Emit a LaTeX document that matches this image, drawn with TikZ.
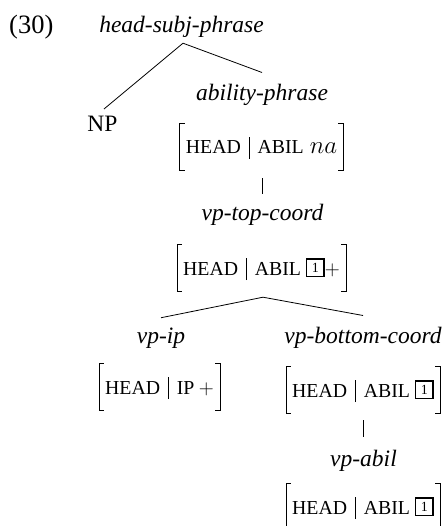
\documentclass[tikz,border=0pt]{standalone}
\usepackage{fontspec}
\setmainfont{Liberation Serif}
\newcommand{\fsz}[1]{\fontsize{#1}{#1}\selectfont}
\newcommand{\smc}[1]{{\fsz{19.8}#1}}
\newcommand{\pbar}{\hspace{8pt}\rule[-5pt]{0.7pt}{22pt}\hspace{8pt}}
\newcommand{\tagb}[1]{{\setlength{\fboxrule}{1.4pt}\setlength{\fboxsep}{0pt}\raisebox{-0.6pt}{\fbox{\makebox[16pt]{\rule{0pt}{16pt}\raisebox{3.3pt}{\fsz{14}#1}}}}}}
\newcommand{\avmstrut}{\rule[-16pt]{0pt}{46pt}}
\newcommand{\avmbrackets}[1]{%
  \draw[brk] ([xshift=5pt]#1.north west) -- (#1.north west) -- (#1.south west) -- ([xshift=5pt]#1.south west);
  \draw[brk] ([xshift=-5pt]#1.north east) -- (#1.north east) -- (#1.south east) -- ([xshift=-5pt]#1.south east);}
\tikzset{
  lbl/.style={font=\fsz{23.5}\itshape, inner sep=0pt, anchor=base},
  avm/.style={inner xsep=6pt, inner ysep=0pt, anchor=base},
  brk/.style={line width=0.8pt},
  edge/.style={line width=0.8pt},
}
\begin{document}
\begin{tikzpicture}[x=1pt,y=-1pt]
\useasboundingbox (0,0) rectangle (446,526);
% example number
\node[inner sep=0pt, anchor=base west, font=\fsz{26.5}] (num) at (9,34) {(30)};
% labels
\node[lbl] (hsp) at (181.5,33) {head-subj-phrase};
\node[lbl, font=\fsz{23.5}\upshape] (np) at (102.5,132) {NP};
\node[lbl] (ap) at (262,101) {ability-phrase};
\node[avm] (a1) at (261.5,154) {\avmstrut\smc{HEAD}\pbar\smc{ABIL}\hspace{6pt}{\fsz{24}$na$}};
\node[lbl] (vtc) at (262.5,221) {vp-top-coord};
\node[avm] (a2) at (261.5,275) {\avmstrut\smc{HEAD}\pbar\smc{ABIL}\hspace{5pt}\tagb{1}{\fsz{22}$+$}};
\node[lbl] (vpip) at (161,343) {vp-ip};
\node[lbl] (vpbc) at (363,343) {vp-bottom-coord};
\node[avm] (a3) at (159.5,394) {\avmstrut\smc{HEAD}\pbar\smc{IP}\hspace{4.5pt}{\fsz{22}$+$}};
\node[avm] (a4) at (363,397) {\avmstrut\smc{HEAD}\pbar\smc{ABIL}\hspace{5pt}\tagb{1}};
\node[lbl] (vpa) at (363.5,466) {vp-abil};
\node[avm] (a5) at (363,514) {\avmstrut\smc{HEAD}\pbar\smc{ABIL}\hspace{5pt}\tagb{1}};
% brackets
\avmbrackets{a1}
\avmbrackets{a2}
\avmbrackets{a3}
\avmbrackets{a4}
\avmbrackets{a5}
% edges
\draw[edge] ([xshift=1.5pt,yshift=-5pt]hsp.south) -- ([xshift=1.5pt,yshift=7.4pt]np.north);
\draw[edge] ([xshift=1.5pt,yshift=-5pt]hsp.south) -- ([yshift=12pt]ap.north);
\draw[edge] ([xshift=0.5pt,yshift=-8pt]a1.south) -- ([xshift=-0.5pt,yshift=10pt]vtc.north);
\draw[edge] ([xshift=1.5pt,yshift=-6pt]a2.south) -- ([yshift=9.5pt]vpip.north);
\draw[edge] ([xshift=1.5pt,yshift=-6pt]a2.south) -- ([yshift=11pt]vpbc.north);
\draw[edge] ([yshift=-7pt]a4.south) -- ([xshift=-0.5pt,yshift=12pt]vpa.north);
\end{tikzpicture}
\end{document}
